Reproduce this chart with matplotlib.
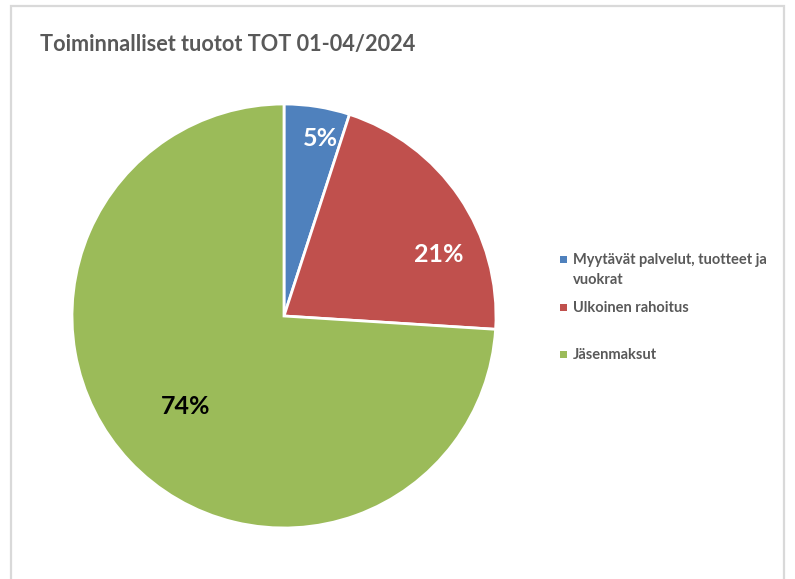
import matplotlib.pyplot as plt
from matplotlib.patches import Rectangle

title = 'Toiminnalliset tuotot TOT 01-04/2024'
categories = ['Myytävät palvelut, tuotteet ja\nvuokrat', 'Ulkoinen rahoitus', 'Jäsenmaksut']
shares = [5, 21, 74]
colors = ['#4F81BD', '#C0504D', '#9BBB59']
label_colors = ['white', 'white', 'black']

plt.rcParams['font.family'] = ['Lato', 'DejaVu Sans']

W, H = 795, 579
fig = plt.figure(figsize=(W / 100, H / 100), dpi=100)

# chart frame
fig.patches.append(Rectangle((11 / W, -0.05), 773 / W, 1.05 - 6 / H,
                             transform=fig.transFigure, fill=False,
                             edgecolor='#D9D9D9', linewidth=1.6))

fig.text(40 / W, 1 - 44 / H, title, fontsize=15.6, fontweight='bold',
         color='#595959', va='center', ha='left')

# pie: center (284, 316), radius 212 px
ax = fig.add_axes([72 / W, 1 - 528 / H, 424 / W, 424 / H])
wedges, texts, autotexts = ax.pie(shares, colors=colors, startangle=90, counterclock=False,
                                  autopct='%d%%', radius=1,
                                  wedgeprops=dict(edgecolor='white', linewidth=2))
ax.set_xlim(-1, 1)
ax.set_ylim(-1, 1)
ax.set_aspect('equal')

# label placement (px relative to pie centre / radius)
label_pos = [(320, 138), (439, 254), (186, 407)]
for t, (px, py), c in zip(autotexts, label_pos, label_colors):
    t.set_position(((px - 284) / 212, (316 - py) / 212))
    t.set_color(c)
    t.set_fontsize(18)
    t.set_fontweight('bold')
    t.set_ha('center')
    t.set_va('center')

# legend
legend_y = [259, 307, 354]
for lab, col, y in zip(categories, colors, legend_y):
    fig.patches.append(Rectangle((560 / W, 1 - (y + 3.5) / H), 7 / W, 7 / H,
                                 transform=fig.transFigure, facecolor=col, edgecolor='none'))
    fig.text(573 / W, 1 - (y - 6) / H, lab, fontsize=10.5, fontweight='bold',
             color='#595959', va='top', ha='left', linespacing=1.55)

fig.savefig('out.png', dpi=100)
